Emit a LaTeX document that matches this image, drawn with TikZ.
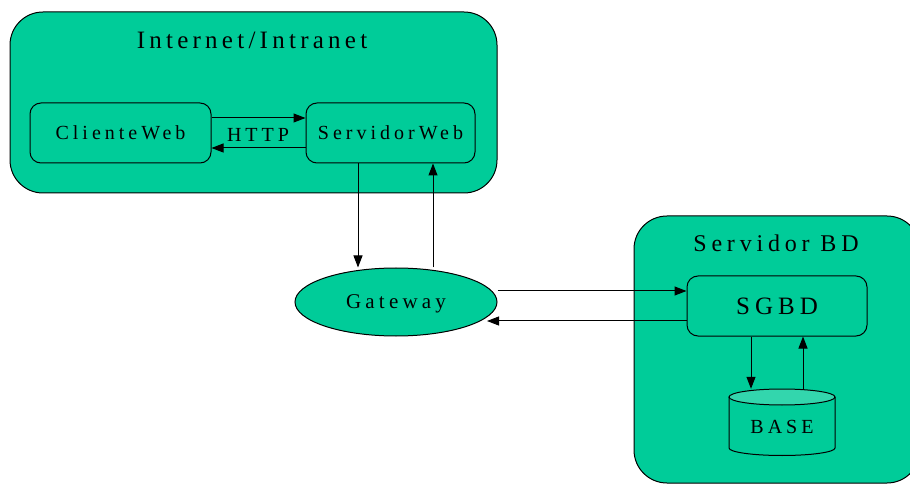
\documentclass[tikz,border=0pt]{standalone}
\usepackage{fontspec}
\setmainfont{Liberation Serif}[LetterSpace=20]
\usetikzlibrary{arrows.meta,shapes.geometric}
\definecolor{bdgreen}{RGB}{0,204,153}
\begin{document}
\begin{tikzpicture}[x=1pt,y=1pt,
  grp/.style={draw=black, line width=1pt, fill=bdgreen, rounded corners=33pt, inner sep=0pt},
  procbox/.style={draw=black, line width=1pt, fill=bdgreen, rounded corners=11pt, inner sep=0pt, minimum height=60pt},
  txtA/.style={font=\fontsize{20}{24}\selectfont, text height=13.2pt, text depth=0pt, inner sep=0pt},
  txtB/.style={font=\fontsize{21}{25}\selectfont, text height=13.9pt, text depth=0pt, inner sep=0pt},
  txtC/.style={font=\fontsize{24}{28}\selectfont, text height=15.9pt, text depth=0pt, inner sep=0pt},
  txtD/.style={font=\fontsize{25}{30}\selectfont, text height=16.5pt, text depth=0pt, inner sep=0pt},
  conn/.style={line width=1pt, -{Triangle[length=12pt,width=9pt]}}
]
\useasboundingbox (0,0) rectangle (910,485);
\clip (0,0) rectangle (910,485);

% group boxes
\node[grp, minimum width=487pt, minimum height=181pt] (inet) at (253.5,382.5) {};
\node[txtC, font=\fontsize{25}{30}\selectfont\addfontfeature{LetterSpace=17}] (inettitle) at (252,444) {Internet/Intranet};
\node[grp, minimum width=286pt, minimum height=267pt] (sbd) at (777,135.5) {};
\node[txtC] (sbdtitle) at (776,241) {Servidor BD};

% processes
\node[procbox, minimum width=181pt, txtA] (cliente) at (120.5,352) {ClienteWeb};
\node[procbox, minimum width=169pt, txtA] (servweb) at (390.5,352) {ServidorWeb};
\node[txtA] (http) at (258,350) {HTTP};
\node[ellipse, draw=black, line width=1pt, fill=bdgreen, minimum width=202pt, minimum height=68pt, txtB] (gateway) at (396,183) {Gateway};
\node[procbox, minimum width=180pt, txtD] (sgbd) at (777,179) {SGBD};

% database cylinder
\node[minimum width=106pt, minimum height=66.5pt, inner sep=0pt] (base) at (782,62.75) {};
\draw[line width=1pt, fill=bdgreen] (729,88) -- (729,37)
  arc[start angle=180, end angle=360, x radius=53, y radius=7.5] -- (835,88);
\draw[line width=1pt, fill=bdgreen!80!white] (782,88) ellipse [x radius=53, y radius=8];
\node[txtA] (basetext) at (782,58) {BASE};

% connector positions
\coordinate (c1) at (358,0);
\coordinate (c2) at (433,0);
\coordinate (c3) at (0,194);
\coordinate (c4) at (0,164);
\coordinate (c5) at (487,0);
\coordinate (c6) at (751,0);
\coordinate (c7) at (803,0);

% connectors
\draw[conn] ([yshift=15pt]cliente.east) -- ([yshift=15pt]servweb.west);
\draw[conn] ([yshift=-15pt]servweb.west) -- ([yshift=-15pt]cliente.east);
\draw[conn] (servweb.south -| c1) -- (gateway.north -| c1);
\draw[conn] (gateway.north -| c2) -- (servweb.south -| c2);
\draw[conn] (gateway.east |- c3) -- (sgbd.west |- c3);
\draw[conn] (sgbd.west |- c4) -- (c5 |- c4);
\draw[conn] (sgbd.south -| c6) -- (base.north -| c6);
\draw[conn] (base.north -| c7) -- (sgbd.south -| c7);
\end{tikzpicture}
\end{document}
